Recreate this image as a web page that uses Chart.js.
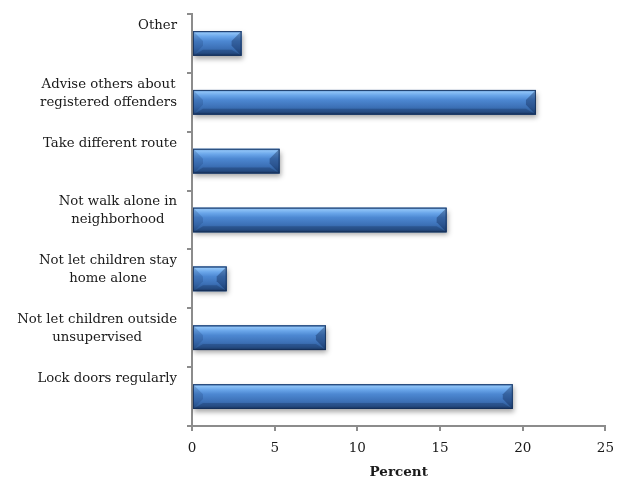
<!DOCTYPE html>
<html>
<head>
<meta charset="utf-8">
<script src="https://cdn.jsdelivr.net/npm/chart.js@4.4.0/dist/chart.umd.min.js"></script>
<style>
  html, body { margin: 0; padding: 0; background: #fff; }
  #wrap { width: 623px; height: 481px; }
</style>
</head>
<body>
<div id="wrap"><canvas id="actions"></canvas></div>
<script>
// categories, top to bottom as in the picture (single lines padded so labels sit at band top)
var categories = [
    ['Other', ''],
    ['Advise others about', 'registered offenders'],
    ['Take different route', ''],
    ['Not walk alone in', 'neighborhood'],
    ['Not let children stay', 'home alone'],
    ['Not let children outside', 'unsupervised'],
    ['Lock doors regularly', '']
];
var percents = [3.0, 20.8, 5.3, 15.4, 2.1, 8.1, 19.4];
var xTicks = [0, 5, 10, 15, 20, 25];

var axisGrey = '#8c8c8c';
var textCol = '#1a1a1a';
var serif = "'DejaVu Serif', 'Liberation Serif', serif";
var labelSize = 13.25;
var labelLine = 18;

// soft drop shadow under the bars
var barShadow = {
    id: 'barShadow',
    beforeDatasetDraw: function (chart) {
        var ctx = chart.ctx;
        ctx.save();
        ctx.shadowColor = 'rgba(0,0,0,0.35)';
        ctx.shadowBlur = 5;
        ctx.shadowOffsetX = 1;
        ctx.shadowOffsetY = 3;
    },
    afterDatasetDraw: function (chart) {
        chart.ctx.restore();
    }
};

// bevelled look painted over each bar the library laid out
var bevel = {
    id: 'bevel',
    afterDatasetsDraw: function (chart) {
        var ctx = chart.ctx;
        chart.getDatasetMeta(0).data.forEach(function (bar) {
            var p = bar.getProps(['x', 'y', 'base', 'height'], true);
            var l = Math.min(p.base, p.x), r = Math.max(p.base, p.x);
            var t = p.y - p.height / 2, b = p.y + p.height / 2;
            var h = b - t, w = r - l;
            var s = Math.min(10, w / 2, h / 2);

            ctx.save();
            var g = ctx.createLinearGradient(0, t, 0, b);
            g.addColorStop(0.00, '#3f73b8');
            g.addColorStop(0.08, '#8ec2f6');
            g.addColorStop(0.22, '#6aa6ea');
            g.addColorStop(0.40, '#4d88d2');
            g.addColorStop(0.70, '#3c70b6');
            g.addColorStop(0.88, '#2f5c98');
            g.addColorStop(1.00, '#1c3a66');
            ctx.fillStyle = g;
            ctx.fillRect(l, t, w, h);

            // left facet
            ctx.beginPath();
            ctx.moveTo(l, t); ctx.lineTo(l + s, t + s); ctx.lineTo(l + s, b - s); ctx.lineTo(l, b);
            ctx.closePath();
            ctx.fillStyle = 'rgba(20,50,100,0.2)';
            ctx.fill();
            // right facet
            ctx.beginPath();
            ctx.moveTo(r, t); ctx.lineTo(r - s, t + s); ctx.lineTo(r - s, b - s); ctx.lineTo(r, b);
            ctx.closePath();
            ctx.fillStyle = 'rgba(10,30,70,0.35)';
            ctx.fill();
            // bottom facet
            ctx.beginPath();
            ctx.moveTo(l, b); ctx.lineTo(l + s, b - s * 0.6); ctx.lineTo(r - s, b - s * 0.6); ctx.lineTo(r, b);
            ctx.closePath();
            ctx.fillStyle = 'rgba(10,30,70,0.25)';
            ctx.fill();

            ctx.strokeStyle = 'rgba(20,45,85,0.8)';
            ctx.lineWidth = 1;
            ctx.strokeRect(l + 0.5, t + 0.5, w - 1, h - 1);
            ctx.restore();
        });
    }
};

// category labels: each block right-aligned to the axis, its lines centred on each other
var blockLabels = {
    id: 'blockLabels',
    afterDraw: function (chart) {
        var ctx = chart.ctx;
        var yScale = chart.scales.y;
        var right = yScale.right - 5 - 10;
        ctx.save();
        ctx.font = labelSize + 'px ' + serif;
        ctx.fillStyle = textCol;
        ctx.textAlign = 'center';
        ctx.textBaseline = 'middle';
        categories.forEach(function (lines, i) {
            var widest = 0;
            lines.forEach(function (s) { widest = Math.max(widest, ctx.measureText(s).width); });
            var cx = right - widest / 2;
            var y0 = yScale.getPixelForTick(i) - 9 - labelLine * (lines.length - 1) / 2;
            lines.forEach(function (s, j) {
                if (s) ctx.fillText(s, cx, y0 + j * labelLine);
            });
        });
        ctx.restore();
    }
};

var ctx1 = document.getElementById('actions').getContext('2d');

var actionsChart = new Chart(ctx1, {
    type: 'bar',
    data: {
        labels: categories,
        datasets: [{
            data: percents,
            backgroundColor: '#4a84cc',
            borderWidth: 0,
            barPercentage: 1,
            categoryPercentage: 0.42
        }]
    },
    options: {
        indexAxis: 'y',
        responsive: true,
        maintainAspectRatio: false,
        animation: false,
        layout: { padding: { top: 0, right: 17, left: 0, bottom: 0 } },
        plugins: {
            legend: { display: false },
            tooltip: { enabled: false }
        },
        scales: {
            x: {
                min: 0,
                max: 25,
                afterBuildTicks: function (scale) {
                    scale.ticks = xTicks.map(function (v) { return { value: v }; });
                },
                afterFit: function (scale) { scale.height = 55; },
                border: { color: axisGrey, width: 2 },
                grid: { drawOnChartArea: false, drawTicks: true, tickLength: 5, color: axisGrey, lineWidth: 2 },
                ticks: {
                    color: textCol,
                    padding: 9,
                    maxRotation: 0,
                    font: { family: serif, size: 13.5 }
                },
                title: {
                    display: true,
                    text: 'Percent',
                    color: textCol,
                    padding: { top: 2, bottom: 0 },
                    font: { family: serif, size: 13.5, weight: 'bold' }
                }
            },
            y: {
                afterFit: function (scale) {
                    scale.width = 192;
                    scale.paddingTop = 14;
                    scale.paddingBottom = 0;
                },
                border: { color: axisGrey, width: 2 },
                grid: { offset: true, drawOnChartArea: false, drawTicks: true, tickLength: 5, color: axisGrey, lineWidth: 2 },
                ticks: { display: false }
            }
        }
    },
    plugins: [barShadow, bevel, blockLabels]
});
</script>
</body>
</html>
